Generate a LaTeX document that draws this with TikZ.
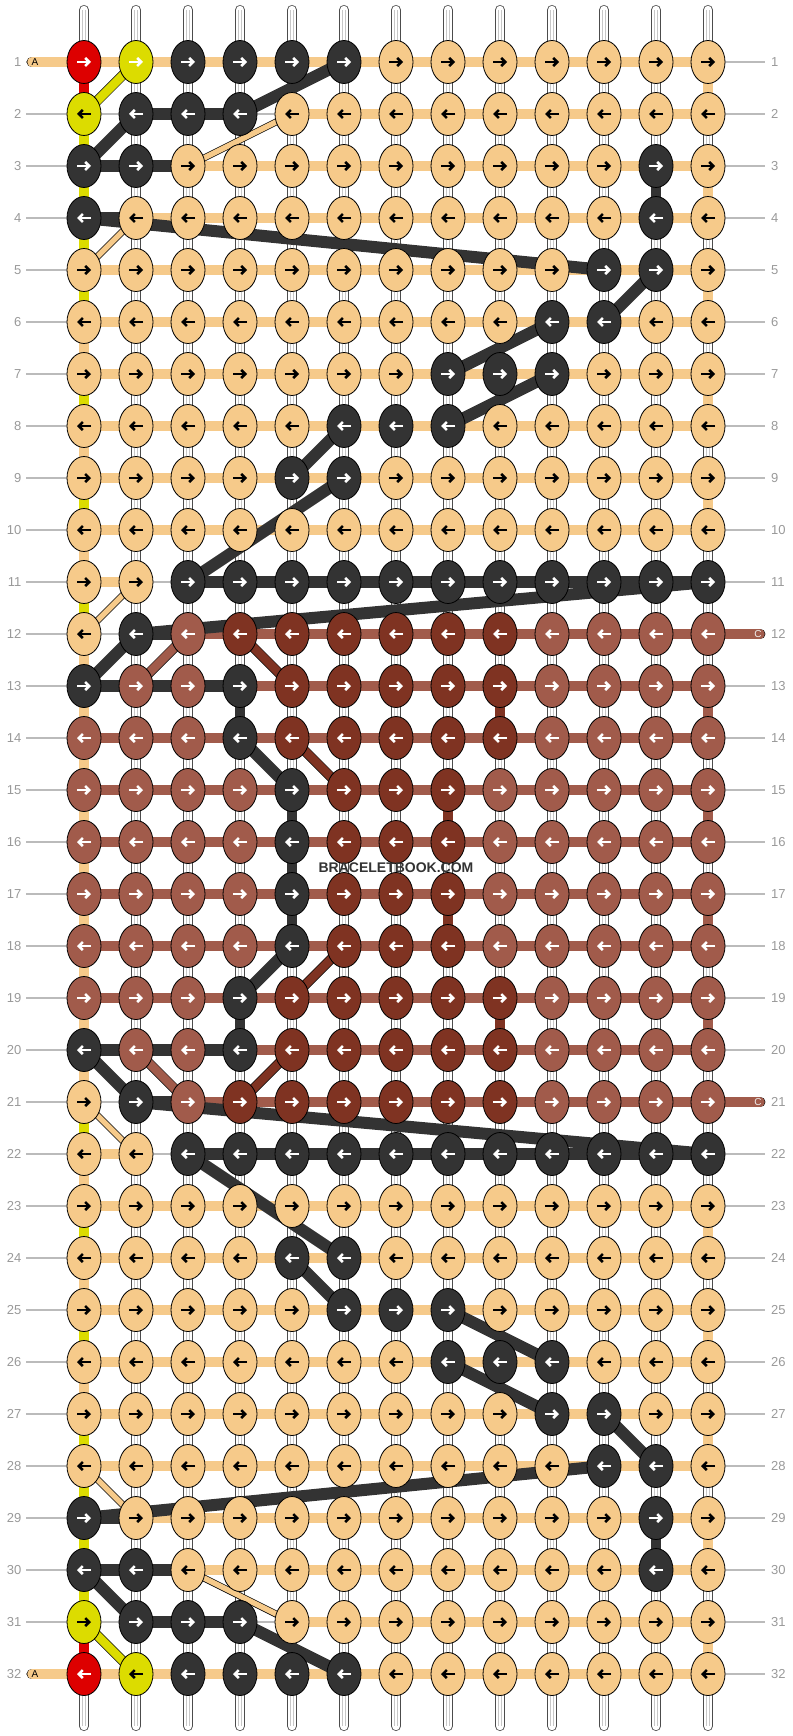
\documentclass[tikz,border=0pt]{standalone}
\usepackage{fontspec}
\setmainfont{Liberation Sans}
\usepackage{tikz}
\usetikzlibrary{arrows.meta,shapes,positioning}

%thread colours
\definecolor{colT}{HTML}{F6CA8A}
\definecolor{colD}{HTML}{333333}
\definecolor{colR}{HTML}{DD0000}
\definecolor{colY}{HTML}{DCDC00}
\colorlet{colW}{colY}
\definecolor{colL}{HTML}{A15B4B}
\definecolor{colB}{HTML}{7F3322}
%arrow colours on the knots
\colorlet{arrT}{black}
\colorlet{arrD}{white}
\colorlet{arrR}{white}
\colorlet{arrY}{black}
\colorlet{arrW}{white}
\colorlet{arrL}{white}
\colorlet{arrB}{white}
\definecolor{guidegray}{HTML}{BBBBBB}
\definecolor{numgray}{HTML}{999999}

\tikzset{
  knot/.style={ellipse, draw=black, line width=0.8pt, minimum width=34pt, minimum height=43pt, inner sep=0pt},
  knotarrow/.style={line width=2.5pt, -{Straight Barb[length=4pt,width=8pt]}},
  weft/.style={draw=black, line width=0.7pt, double=#1, double distance=9.5pt},
  darkweft/.style={draw=black, line width=0.6pt, double=colD, double distance=11.5pt},
  darkpath/.style={draw=colD, line width=12pt},
  slimpath/.style={draw=black, line width=0.7pt, double=#1, double distance=5.5pt},
  midpath/.style={draw=black, line width=0.7pt, double=#1, double distance=8.5pt},
  warp/.style={draw=black!70, line width=0.8pt, double=white, double distance=8.5pt, line cap=round},
  warpline/.style={draw=black!22, line width=0.6pt, double=white, double distance=2.4pt},
  guide/.style={draw=guidegray, line width=1.2pt},
  rownum/.style={text=numgray, inner sep=0pt, font=\fontsize{13}{15}\selectfont},
  tablabel/.style={inner sep=0pt, font=\fontsize{10}{12}\selectfont},
}

\begin{document}
\begin{tikzpicture}[x=1pt,y=-1pt]
  \useasboundingbox (0,0) rectangle (792,1736);
  %knot positions
  \foreach \rw in {1,...,32}
    \foreach \cl in {1,...,13}
      \coordinate (p-\rw-\cl) at ({84+52*(\cl-1)},{62+52*(\rw-1)});

  %row guides and row numbers
  \foreach \rw in {1,...,32}{
    \pgfmathsetmacro{\yy}{62+52*(\rw-1)}
    \coordinate (gl-\rw) at (26,\yy);
    \coordinate (gr-\rw) at (765,\yy);
    \draw[guide] (gl-\rw) -- (gr-\rw);
    \node[rownum, anchor=east] (ln-\rw) at (21.5,\yy) {\rw};
    \node[rownum, anchor=west] (rn-\rw) at (771,\yy) {\rw};
  }

  %draw warp strings
  \foreach \cl in {1,...,13}{
    \coordinate (wt-\cl) at ({84+52*(\cl-1)},10);
    \coordinate (wb-\cl) at ({84+52*(\cl-1)},1726);
    \draw[warp] (wt-\cl) -- (wb-\cl);
    \draw[warpline] (wt-\cl) -- (wb-\cl);
  }

  %left edge turns
  \foreach \gp/\cc in {1/R,2/Y,3/Y,4/Y,5/Y,6/T,7/Y,8/T,9/Y,10/T,11/Y,12/T,13/T,14/T,15/T,16/T,
                       17/T,18/T,19/T,20/T,21/Y,22/T,23/Y,24/T,25/Y,26/T,27/Y,28/Y,29/Y,30/Y,31/R}{
    \pgfmathtruncatemacro{\nx}{\gp+1}
    \draw[weft=col\cc] (p-\gp-1) -- (p-\nx-1);
  }
  %other vertical steps
  \foreach \cl/\gp/\cc in {13/1/T,13/3/T,13/5/T,13/7/T,13/9/T,13/13/L,13/15/L,13/17/L,13/19/L,
                           13/23/T,13/25/T,13/27/T,13/29/T,13/31/T,12/3/D,12/29/D,4/13/D,4/19/D,
                           5/15/D,5/16/D,5/17/D,9/13/B,9/19/B,8/15/B,8/17/B}{
    \pgfmathtruncatemacro{\nx}{\gp+1}
    \draw[weft=col\cc] (p-\gp-\cl) -- (p-\nx-\cl);
  }

  %horizontal bars, N = no bar
  \foreach \rw/\gaps in {
    1/{T,T,T,T,T,T,T,T,T,T,T,T}, 2/{N,D,D,N,T,T,T,T,T,T,T,T},
    3/{D,D,T,T,T,T,T,T,T,T,T,T}, 4/{D,T,T,T,T,T,T,T,T,T,T,T},
    5/{T,T,T,T,T,T,T,T,T,T,T,T}, 6/{T,T,T,T,T,T,T,T,T,T,T,T},
    7/{T,T,T,T,T,T,T,T,T,T,T,T}, 8/{T,T,T,T,T,T,T,T,T,T,T,T},
    9/{T,T,T,T,T,T,T,T,T,T,T,T}, 10/{T,T,T,T,T,T,T,T,T,T,T,T},
    11/{T,N,D,D,D,D,D,D,D,D,D,D}, 12/{N,D,L,L,L,L,L,L,L,L,L,L},
    13/{D,D,D,L,L,L,L,L,L,L,L,L}, 14/{L,L,L,L,L,L,L,L,L,L,L,L},
    15/{L,L,L,L,L,L,L,L,L,L,L,L}, 16/{L,L,L,L,L,L,L,L,L,L,L,L},
    17/{L,L,L,L,L,L,L,L,L,L,L,L}, 18/{L,L,L,L,L,L,L,L,L,L,L,L},
    19/{L,L,L,L,L,L,L,L,L,L,L,L}, 20/{D,D,D,L,L,L,L,L,L,L,L,L},
    21/{N,D,L,L,L,L,L,L,L,L,L,L}, 22/{T,N,D,D,D,D,D,D,D,D,D,D},
    23/{T,T,T,T,T,T,T,T,T,T,T,T}, 24/{T,T,T,T,T,T,T,T,T,T,T,T},
    25/{T,T,T,T,T,T,T,T,T,T,T,T}, 26/{T,T,T,T,T,T,T,T,T,T,T,T},
    27/{T,T,T,T,T,T,T,T,T,T,T,T}, 28/{T,T,T,T,T,T,T,T,T,T,T,T},
    29/{D,T,T,T,T,T,T,T,T,T,T,T}, 30/{D,D,T,T,T,T,T,T,T,T,T,T},
    31/{N,D,D,N,T,T,T,T,T,T,T,T}, 32/{T,T,T,T,T,T,T,T,T,T,T,T}}{
    \foreach \gc [count=\cl] in \gaps {
      \pgfmathtruncatemacro{\nx}{\cl+1}
      \if N\gc\else
        \if D\gc
          \draw[darkweft] (p-\rw-\cl) -- (p-\rw-\nx);
        \else
          \draw[weft=col\gc] (p-\rw-\cl) -- (p-\rw-\nx);
        \fi
      \fi
    }
  }

  %start tabs
  \coordinate (tabA-1) at (32,62);
  \coordinate (tabA-32) at (32,1674);
  \coordinate (tabC-12) at (760,634);
  \coordinate (tabC-21) at (760,1102);
  \draw[weft=colT, line cap=round] (tabA-1) -- (p-1-1);
  \draw[weft=colT, line cap=round] (tabA-32) -- (p-32-1);
  \draw[weft=colL, line cap=round] (p-12-13) -- (tabC-12);
  \draw[weft=colL, line cap=round] (p-21-13) -- (tabC-21);
  \node[tablabel] (A-1) at (35,62) {A};
  \node[tablabel] (A-32) at (35,1674) {A};
  \node[tablabel, text=white!88!gray] (C-12) at (758,634) {C};
  \node[tablabel, text=white!88!gray] (C-21) at (758,1102) {C};

  %thread changes between rows
  \foreach \ra/\ca/\rb/\cb in {1/6/2/4,2/2/3/1,4/1/5/11,5/12/6/11,6/10/7/8,7/10/8/8,8/6/9/5,
                              9/6/11/3,11/13/12/2,12/2/13/1,14/4/15/5,18/5/19/4,20/1/21/2,
                              21/2/22/13,22/3/24/6,24/5/25/6,25/8/26/10,26/8/27/10,27/11/28/12,
                              28/11/29/1,30/1/31/2,31/4/32/6}
    \draw[darkpath] (p-\ra-\ca) -- (p-\rb-\cb);
  \foreach \ra/\ca/\rb/\cb in {2/5/3/3,4/2/5/1,11/2/12/1,21/1/22/2,28/1/29/2,30/3/31/5}
    \draw[slimpath=colT] (p-\ra-\ca) -- (p-\rb-\cb);
  \foreach \ra/\ca/\rb/\cb in {1/2/2/1,31/1/32/2}
    \draw[midpath=colY] (p-\ra-\ca) -- (p-\rb-\cb);
  \foreach \ra/\ca/\rb/\cb in {12/3/13/2,20/2/21/3}
    \draw[midpath=colL] (p-\ra-\ca) -- (p-\rb-\cb);
  \foreach \ra/\ca/\rb/\cb in {12/4/13/5,14/5/15/6,18/6/19/5,20/5/21/4}
    \draw[midpath=colB] (p-\ra-\ca) -- (p-\rb-\cb);

  %draw knots
  \foreach \rw/\knots in {
    1/{R,W,D,D,D,D,T,T,T,T,T,T,T}, 2/{Y,D,D,D,T,T,T,T,T,T,T,T,T},
    3/{D,D,T,T,T,T,T,T,T,T,T,D,T}, 4/{D,T,T,T,T,T,T,T,T,T,T,D,T},
    5/{T,T,T,T,T,T,T,T,T,T,D,D,T}, 6/{T,T,T,T,T,T,T,T,T,D,D,T,T},
    7/{T,T,T,T,T,T,T,D,D,D,T,T,T}, 8/{T,T,T,T,T,D,D,D,T,T,T,T,T},
    9/{T,T,T,T,D,D,T,T,T,T,T,T,T}, 10/{T,T,T,T,T,T,T,T,T,T,T,T,T},
    11/{T,T,D,D,D,D,D,D,D,D,D,D,D}, 12/{T,D,L,B,B,B,B,B,B,L,L,L,L},
    13/{D,L,L,D,B,B,B,B,B,L,L,L,L}, 14/{L,L,L,D,B,B,B,B,B,L,L,L,L},
    15/{L,L,L,L,D,B,B,B,L,L,L,L,L}, 16/{L,L,L,L,D,B,B,B,L,L,L,L,L},
    17/{L,L,L,L,D,B,B,B,L,L,L,L,L}, 18/{L,L,L,L,D,B,B,B,L,L,L,L,L},
    19/{L,L,L,D,B,B,B,B,B,L,L,L,L}, 20/{D,L,L,D,B,B,B,B,B,L,L,L,L},
    21/{T,D,L,B,B,B,B,B,B,L,L,L,L}, 22/{T,T,D,D,D,D,D,D,D,D,D,D,D},
    23/{T,T,T,T,T,T,T,T,T,T,T,T,T}, 24/{T,T,T,T,D,D,T,T,T,T,T,T,T},
    25/{T,T,T,T,T,D,D,D,T,T,T,T,T}, 26/{T,T,T,T,T,T,T,D,D,D,T,T,T},
    27/{T,T,T,T,T,T,T,T,T,D,D,T,T}, 28/{T,T,T,T,T,T,T,T,T,T,D,D,T},
    29/{D,T,T,T,T,T,T,T,T,T,T,D,T}, 30/{D,D,T,T,T,T,T,T,T,T,T,D,T},
    31/{Y,D,D,D,T,T,T,T,T,T,T,T,T}, 32/{R,Y,D,D,D,D,T,T,T,T,T,T,T}}{
    \foreach \kc [count=\cl] in \knots {
      \node[knot, fill=col\kc] (k-\rw-\cl) at (p-\rw-\cl) {};
      \ifodd\rw
        \draw[knotarrow, draw=arr\kc] ([xshift=-7pt]k-\rw-\cl.center) -- ([xshift=7pt]k-\rw-\cl.center);
      \else
        \draw[knotarrow, draw=arr\kc] ([xshift=7pt]k-\rw-\cl.center) -- ([xshift=-7pt]k-\rw-\cl.center);
      \fi
    }
  }

  %site mark
  \node[text=colD, inner sep=0pt, font=\bfseries\fontsize{14}{16}\selectfont] (mark) at (396,868) {BRACELETBOOK.COM};
\end{tikzpicture}
\end{document}
